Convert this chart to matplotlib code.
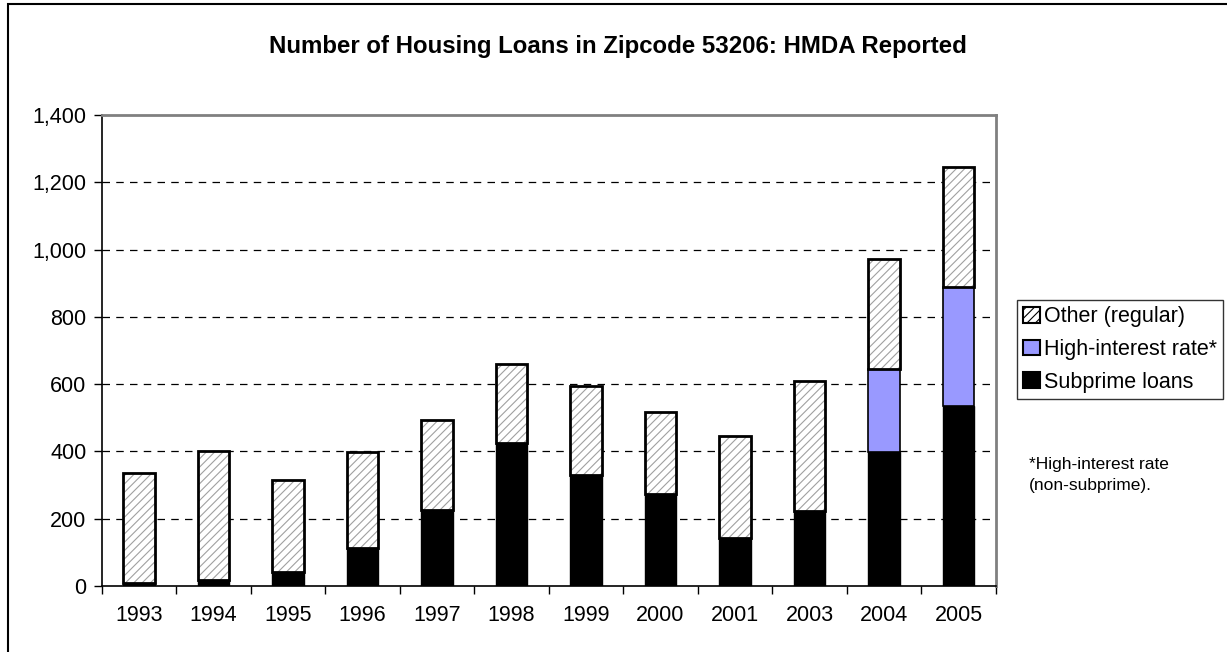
import matplotlib
matplotlib.use("Agg")
import matplotlib.pyplot as plt
from matplotlib.patches import Patch, Rectangle
from matplotlib.ticker import FuncFormatter, FixedLocator
import numpy as np

plt.rcParams['font.family'] = ['Liberation Sans', 'DejaVu Sans']
plt.rcParams['hatch.linewidth'] = 0.8

years = ["1993", "1994", "1995", "1996", "1997", "1998", "1999", "2000", "2001", "2003", "2004", "2005"]
subprime = [10, 17, 42, 112, 227, 426, 330, 274, 143, 224, 399, 535]
high_interest = [0, 0, 0, 0, 0, 0, 0, 0, 0, 0, 246, 353]
total = [335, 401, 314, 398, 493, 659, 596, 517, 447, 609, 971, 1244]
other = [t - s - h for t, s, h in zip(total, subprime, high_interest)]

title = "Number of Housing Loans in Zipcode 53206: HMDA Reported"
note = "*High-interest rate\n(non-subprime)."

fig = plt.figure(figsize=(12.27, 6.52), dpi=100)
ax = fig.add_axes([0.0829, 0.1012, 0.8115 - 0.0829, 0.8236 - 0.1012])

x = np.arange(len(years))
w = 0.42
sub_b = np.array(subprime)
hi_b = sub_b + np.array(high_interest)

ax.bar(x, subprime, w, color='black', edgecolor='black', linewidth=1, zorder=3)
ax.bar(x, high_interest, w, bottom=sub_b, color='#9999ff', edgecolor='black', linewidth=1.2, zorder=3)
ax.bar(x, other, w, bottom=hi_b, color='white', edgecolor='#a0a0a0', hatch='////', linewidth=0, zorder=3)
ax.bar(x, other, w, bottom=hi_b, facecolor='none', edgecolor='black', linewidth=2, zorder=4)

ax.set_xlim(-0.5, len(years) - 0.5)
ax.set_ylim(0, 1400)
ax.set_yticks(np.arange(0, 1401, 200))
ax.yaxis.set_major_formatter(FuncFormatter(lambda v, p: f"{int(v):,}"))
ax.set_xticks(x)
ax.set_xticklabels(years)
ax.xaxis.set_minor_locator(FixedLocator(np.arange(-0.5, len(years), 1)))
ax.tick_params(axis='x', which='major', length=0, pad=14, labelsize=15.5)
ax.tick_params(axis='x', which='minor', length=6, width=1, color='black')
ax.tick_params(axis='y', length=6, width=1, labelsize=15.5, pad=5)

for v in range(200, 1400, 200):
    ax.axhline(v, color='black', linestyle=(0, (6, 5)), linewidth=0.9, zorder=1)

ax.spines['left'].set_color('black')
ax.spines['bottom'].set_color('black')
ax.spines['left'].set_linewidth(1.2)
ax.spines['bottom'].set_linewidth(1.2)
ax.spines['right'].set_color('#808080')
ax.spines['top'].set_color('#808080')
ax.spines['right'].set_linewidth(2)
ax.spines['top'].set_linewidth(2)

fig.text(618 / 1227, 1 - 46 / 652, title, ha='center', va='center',
         fontsize=17.3, fontweight='bold')

handles = [
    Patch(facecolor='white', edgecolor='black', hatch='////', linewidth=1.5, label='Other (regular)'),
    Patch(facecolor='#9999ff', edgecolor='black', linewidth=1.5, label='High-interest rate*'),
    Patch(facecolor='black', edgecolor='black', linewidth=1.5, label='Subprime loans'),
]
leg = fig.legend(handles=handles, loc='upper left',
                 bbox_to_anchor=(1017 / 1227, 1 - 300 / 652),
                 fontsize=15.5, frameon=True, fancybox=False, edgecolor='black',
                 handlelength=0.75, handleheight=0.75, handletextpad=0.2,
                 borderpad=0.3, labelspacing=0.54, borderaxespad=0)
leg.get_frame().set_linewidth(1.0)

fig.text(1029 / 1227, 1 - 475 / 652, note, ha='left', va='center', fontsize=12.5, linespacing=1.55)

fig.patches.append(Rectangle((8 / 1227, -0.1), 1.5, (652 - 4) / 652 + 0.1, transform=fig.transFigure,
                             fill=False, edgecolor='black', linewidth=1.5))

fig.savefig("out.png", dpi=100)
